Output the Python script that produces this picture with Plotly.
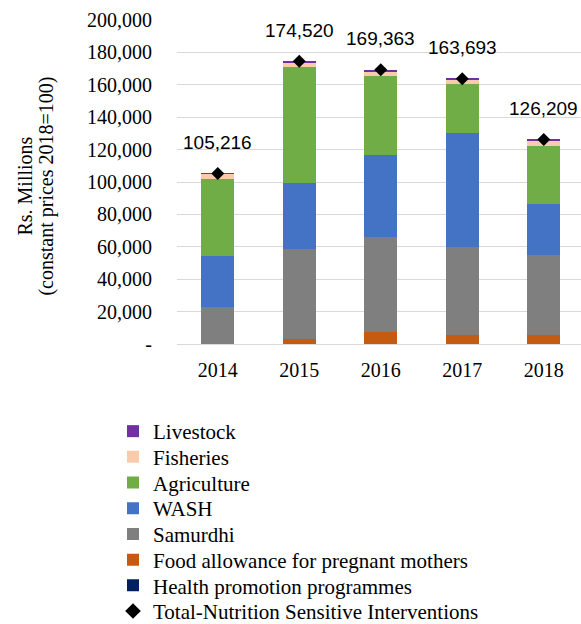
import plotly.graph_objects as go

# Spending on nutrition-sensitive interventions, Rs. Millions (constant 2018 prices)
years = ["2014", "2015", "2016", "2017", "2018"]
health_promotion = [50, 80, 100, 90, 80]
food_allowance = [250, 3120, 7100, 5710, 5720]
samurdhi = [22700, 55500, 58900, 54200, 49200]
wash = [31500, 40600, 50400, 70000, 31400]
agriculture = [47200, 71500, 48800, 30600, 36100]
fisheries = [3300, 3200, 3100, 2600, 3300]
livestock = [216, 520, 963, 493, 409]
totals = [105216, 174520, 169363, 163693, 126209]

y_tick_vals = [0, 20000, 40000, 60000, 80000, 100000, 120000, 140000, 160000, 180000, 200000]
y_tick_text = ["-", "20,000", "40,000", "60,000", "80,000", "100,000", "120,000",
               "140,000", "160,000", "180,000", "200,000"]

# (name, values, colour, legend row from the top)
series = [
    ("Health promotion programmes", health_promotion, "#002060", 6),
    ("Food allowance for pregnant mothers", food_allowance, "#C55A11", 5),
    ("Samurdhi", samurdhi, "#7F7F7F", 4),
    ("WASH", wash, "#4472C4", 3),
    ("Agriculture", agriculture, "#70AD47", 2),
    ("Fisheries", fisheries, "#F8CBAD", 1),
    ("Livestock", livestock, "#7030A0", 0),
]
total_row = 7

serif = "Liberation Serif, Times New Roman, serif"
sans = "Liberation Sans, Arial, sans-serif"

# Page geometry (pixels)
W, H = 581, 624
M_L, M_T, PLOT_H = 177, 20, 324
PLOT_W = W - M_L
PLOT_BOTTOM = M_T + PLOT_H
LEGEND_LEFT = 113
LEGEND_TOP_ROW = 431.5
LEGEND_ROW_STEP = 25.7


def legend_name(row):
    return "legend" if row == 0 else f"legend{row + 1}"


def legend_layout(row, **extra):
    yc = LEGEND_TOP_ROW + row * LEGEND_ROW_STEP
    return dict(
        x=(LEGEND_LEFT - M_L) / PLOT_W, y=(PLOT_BOTTOM - yc) / PLOT_H,
        xanchor="left", yanchor="middle",
        font=dict(family=serif, size=21, color="black"),
        bgcolor="rgba(0,0,0,0)", borderwidth=0,
        **extra,
    )


fig = go.Figure()
for name, vals, color, row in series:
    fig.add_trace(go.Bar(
        x=years, y=vals, name=name, legend=legend_name(row),
        marker=dict(color=color, line=dict(width=0)),
    ))

fig.add_trace(go.Scatter(
    x=years, y=totals, name="Total-Nutrition Sensitive Interventions",
    mode="markers", legend=legend_name(total_row),
    marker=dict(symbol="diamond", color="black", size=10),
))

# Value labels above the total markers
for i, tot in enumerate(totals):
    fig.add_annotation(
        x=i, y=tot, xref="x", yref="y", text=f"{tot:,}", showarrow=False,
        yanchor="middle", yshift=31,
        font=dict(family=sans, size=19, color="black"),
    )

# Two-line vertical axis title
fig.add_annotation(
    x=(25 - M_L) / PLOT_W, y=0.486, xref="paper", yref="paper",
    text="Rs. Millions", textangle=-90, showarrow=False,
    xanchor="center", yanchor="middle",
    font=dict(family=serif, size=20, color="black"),
)
fig.add_annotation(
    x=(47 - M_L) / PLOT_W, y=0.486, xref="paper", yref="paper",
    text="(constant prices 2018=100)", textangle=-90, showarrow=False,
    xanchor="center", yanchor="middle",
    font=dict(family=serif, size=20, color="black"),
)

legends = {}
for _, _, _, row in series:
    legends[legend_name(row)] = legend_layout(row)
legends[legend_name(total_row)] = legend_layout(total_row, itemsizing="constant")

fig.update_layout(
    width=W, height=H,
    margin=dict(l=M_L, r=0, t=M_T, b=H - PLOT_BOTTOM, autoexpand=False),
    paper_bgcolor="white", plot_bgcolor="white",
    barmode="stack", bargap=0.595,
    showlegend=True,
    xaxis=dict(
        type="category", range=[-0.5, 4.457],
        showgrid=False, showline=False, zeroline=False,
        ticks="", ticklabelstandoff=12,
        tickfont=dict(family=serif, size=20, color="black"),
    ),
    yaxis=dict(
        range=[0, 200000],
        tickvals=y_tick_vals, ticktext=y_tick_text,
        showgrid=True, gridcolor="#D9D9D9", gridwidth=1,
        zeroline=True, zerolinecolor="#D9D9D9", zerolinewidth=1,
        showline=False, ticks="", ticklabelstandoff=24,
        tickfont=dict(family=serif, size=20, color="black"),
    ),
    **legends,
)

fig.write_html("out.html")
